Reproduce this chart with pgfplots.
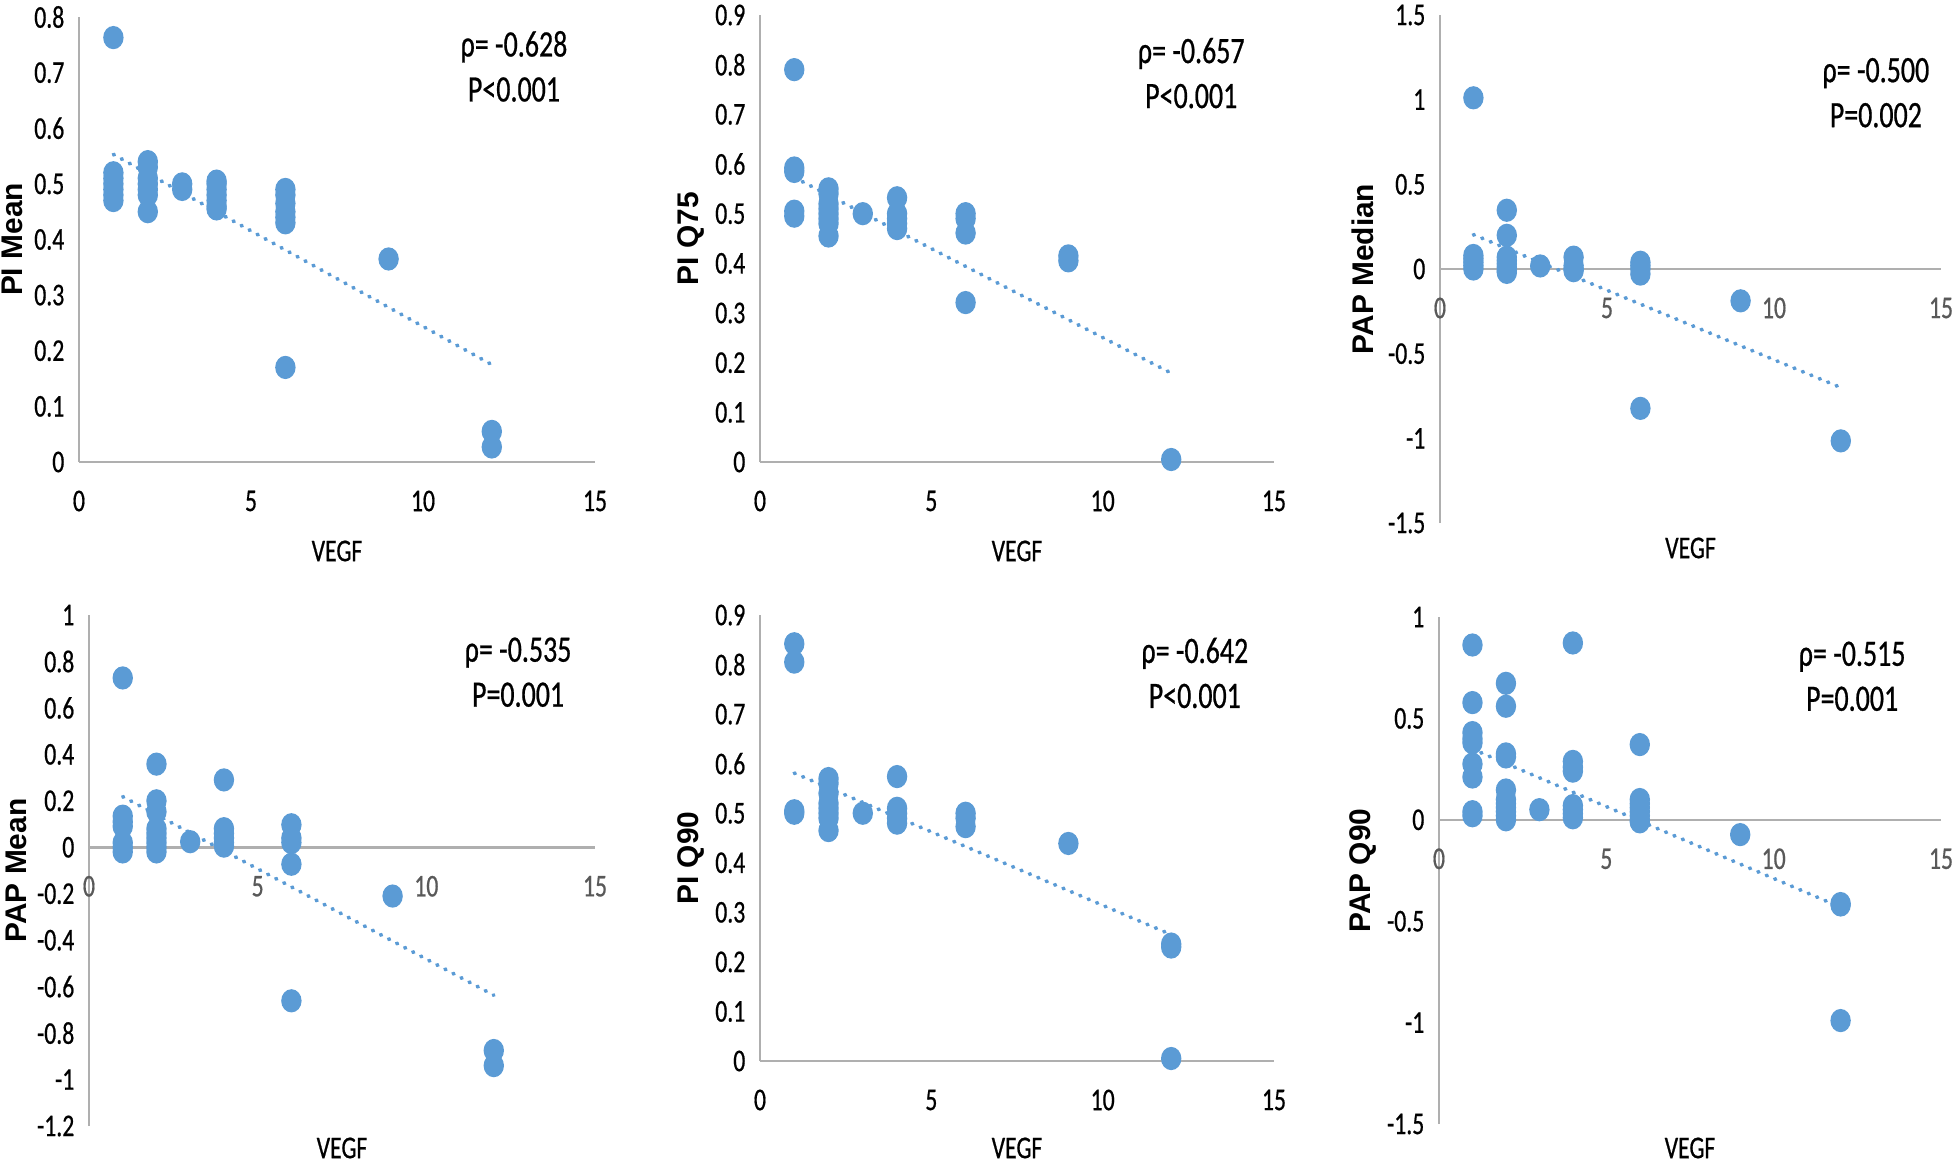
\documentclass[border=0pt]{standalone}
\usepackage{fontspec}
\usepackage{pgfplots}
\pgfplotsset{compat=1.18}
\newfontfamily\calfont{Carlito}[FakeStretch=0.75, FakeBold=0.6]
\newfontfamily\labfont{Liberation Sans}
\definecolor{ptblue}{RGB}{91,155,213}
\definecolor{axisgray}{RGB}{175,175,175}
\definecolor{ticgray}{RGB}{89,89,89}
\tikzset{anno/.style={font=\calfont\fontsize{10.6}{12.8}\selectfont, align=center}}
\pgfplotsset{
  panel/.style={
    scale only axis, clip=false, enlargelimits=false,
    xmin=0, xmax=15, xtick={0,5,10,15},
    axis x line=middle, axis y line=middle,
    axis line style={-, draw=axisgray, line width=0.7pt},
    major tick length=0pt,
    hide obscured x ticks=false, hide obscured y ticks=false,
    tick label style={font=\calfont\fontsize{9}{10}\selectfont, text=black},
    /pgf/number format/assume math mode=true,
    scaled ticks=false,
    xticklabel style={anchor=center, yshift=-3.9mm},
    yticklabel style={anchor=east, inner sep=0pt, xshift=-1.4mm},
    xlabel={VEGF},
  },
  ylab/.style 2 args={every axis y label/.style={at={(rel axis cs:#1,#2)}, rotate=90, anchor=center, font=\labfont\bfseries\fontsize{8.5}{9}\selectfont}},
  xlab/.style={every axis x label/.style={at={(rel axis cs:0.5,0)}, anchor=center, yshift=#1, font=\calfont\fontsize{9}{10}\selectfont}},
  pts/.style={only marks, mark=*, mark size=2.7pt, color=ptblue, mark options={fill=ptblue, draw=ptblue, yscale=1.15}},
  trend/.style={no marks, color=ptblue, line width=1.1pt, dash pattern=on 0.3pt off 2.3pt, line cap=round},
}
\begin{document}
\begin{tikzpicture}
\path[use as bounding box] (0,0) rectangle (195.9mm,116.2mm);

% Panel 1: PI Mean
\begin{axis}[panel, at={(7.9mm,70.0mm)}, anchor=south west, width=51.6mm, height=44.5mm,
  ymin=0, ymax=0.8, ytick={0,0.1,0.2,0.3,0.4,0.5,0.6,0.7,0.8},
  ylabel={PI Mean}, ylab={-0.130}{0.5}, xlab=-8.9mm]
\addplot[pts] coordinates {
(1,0.763)(1,0.52)(1,0.51)(1,0.50)(1,0.49)(1,0.48)(1,0.47)
(2,0.54)(2,0.53)(2,0.51)(2,0.50)(2,0.49)(2,0.48)(2,0.45)
(3,0.50)(3,0.49)
(4,0.505)(4,0.50)(4,0.49)(4,0.48)(4,0.47)(4,0.46)(4,0.455)
(6,0.49)(6,0.48)(6,0.465)(6,0.45)(6,0.44)(6,0.43)(6,0.17)
(9,0.365)
(12,0.055)(12,0.027)};
\addplot[trend] coordinates {(1,0.553)(12,0.175)};
\node[anno] at (rel axis cs:0.843,0.889) {ρ= -0.628\\P<0.001};
\end{axis}

% Panel 2: PI Q75
\begin{axis}[panel, at={(76.0mm,70.0mm)}, anchor=south west, width=51.4mm, height=44.7mm,
  ymin=0, ymax=0.9, ytick={0,0.1,0.2,0.3,0.4,0.5,0.6,0.7,0.8,0.9},
  ylabel={PI Q75}, ylab={-0.134}{0.5}, xlab=-8.9mm]
\addplot[pts] coordinates {
(1,0.79)(1,0.592)(1,0.585)(1,0.505)(1,0.495)
(2,0.55)(2,0.54)(2,0.52)(2,0.51)(2,0.50)(2,0.49)(2,0.48)(2,0.455)
(3,0.50)
(4,0.532)(4,0.50)(4,0.49)(4,0.48)(4,0.47)
(6,0.50)(6,0.49)(6,0.461)(6,0.321)
(9,0.415)(9,0.405)
(12,0.005)};
\addplot[trend] coordinates {(1,0.573)(12,0.179)};
\node[anno] at (rel axis cs:0.839,0.870) {ρ= -0.657\\P<0.001};
\end{axis}

% Panel 3: PAP Median
\begin{axis}[panel, at={(144.0mm,63.9mm)}, anchor=south west, width=50.1mm, height=50.8mm,
  ymin=-1.5, ymax=1.5, ytick={-1.5,-1,-0.5,0,0.5,1,1.5},
  xticklabel style={text=ticgray},
  ylabel={PAP Median}, ylab={-0.154}{0.5}, xlab=-2.5mm]
\addplot[pts] coordinates {
(1,1.011)(1,0.08)(1,0.06)(1,0.04)(1,0.02)(1,0.0)
(2,0.347)(2,0.199)(2,0.07)(2,0.05)(2,0.03)(2,0.01)(2,-0.01)(2,-0.02)
(3,0.018)
(4,0.07)(4,0.02)(4,0.0)(4,-0.01)
(6,0.04)(6,0.02)(6,0.0)(6,-0.03)(6,-0.823)
(9,-0.188)
(12,-1.015)};
\addplot[trend] coordinates {(1,0.203)(12,-0.70)};
\node[anno] at (rel axis cs:0.870,0.847) {ρ= -0.500\\P=0.002};
\end{axis}

% Panel 4: PAP Mean
\begin{axis}[panel, at={(8.9mm,3.6mm)}, anchor=south west, width=50.6mm, height=51.1mm,
  ymin=-1.2, ymax=1, ytick={-1.2,-1,-0.8,-0.6,-0.4,-0.2,0,0.2,0.4,0.6,0.8,1},
  xticklabel style={text=ticgray},
  ylabel={PAP Mean}, ylab={-0.144}{0.5}, xlab=-2.2mm]
\addplot[pts] coordinates {
(1,0.729)(1,0.134)(1,0.11)(1,0.09)(1,0.02)(1,0.0)(1,-0.02)
(2,0.358)(2,0.2)(2,0.153)(2,0.08)(2,0.06)(2,0.04)(2,0.02)(2,0.0)(2,-0.02)
(3,0.024)
(4,0.29)(4,0.08)(4,0.06)(4,0.04)(4,0.02)(4,0.005)
(6,0.097)(6,0.04)(6,0.02)(6,-0.073)(6,-0.661)
(9,-0.21)
(12,-0.875)(12,-0.94)};
\addplot[trend] coordinates {(1,0.218)(12,-0.637)};
\node[anno] at (rel axis cs:0.848,0.888) {ρ= -0.535\\P=0.001};
\end{axis}

% Panel 5: PI Q90
\begin{axis}[panel, at={(76.0mm,10.1mm)}, anchor=south west, width=51.4mm, height=44.6mm,
  ymin=0, ymax=0.9, ytick={0,0.1,0.2,0.3,0.4,0.5,0.6,0.7,0.8,0.9},
  ylabel={PI Q90}, ylab={-0.134}{0.455}, xlab=-8.7mm]
\addplot[pts] coordinates {
(1,0.842)(1,0.805)(1,0.505)(1,0.50)
(2,0.57)(2,0.56)(2,0.54)(2,0.52)(2,0.51)(2,0.50)(2,0.49)(2,0.465)
(3,0.50)
(4,0.574)(4,0.51)(4,0.50)(4,0.49)(4,0.48)
(6,0.50)(6,0.49)(6,0.473)
(9,0.439)
(12,0.236)(12,0.23)(12,0.005)};
\addplot[trend] coordinates {(1,0.581)(12,0.255)};
\node[anno] at (rel axis cs:0.846,0.870) {ρ= -0.642\\P<0.001};
\end{axis}

% Panel 6: PAP Q90
\begin{axis}[panel, at={(143.9mm,3.8mm)}, anchor=south west, width=50.2mm, height=50.7mm,
  ymin=-1.5, ymax=1, ytick={-1.5,-1,-0.5,0,0.5,1},
  xticklabel style={text=ticgray},
  ylabel={PAP Q90}, ylab={-0.151}{0.5}, xlab=-2.4mm]
\addplot[pts] coordinates {
(1,0.862)(1,0.578)(1,0.43)(1,0.40)(1,0.38)(1,0.275)(1,0.211)(1,0.04)(1,0.02)
(2,0.673)(2,0.56)(2,0.325)(2,0.31)(2,0.147)(2,0.10)(2,0.08)(2,0.06)(2,0.04)(2,0.02)(2,0.0)
(3,0.05)
(4,0.872)(4,0.288)(4,0.26)(4,0.24)(4,0.07)(4,0.05)(4,0.03)(4,0.01)
(6,0.371)(6,0.10)(6,0.08)(6,0.06)(6,0.04)(6,0.02)(6,0.0)(6,-0.01)
(9,-0.073)
(12,-0.413)(12,-0.42)(12,-0.99)};
\addplot[trend] coordinates {(1,0.349)(12,-0.431)};
\node[anno] at (rel axis cs:0.823,0.883) {ρ= -0.515\\P=0.001};
\end{axis}
\end{tikzpicture}
\end{document}
